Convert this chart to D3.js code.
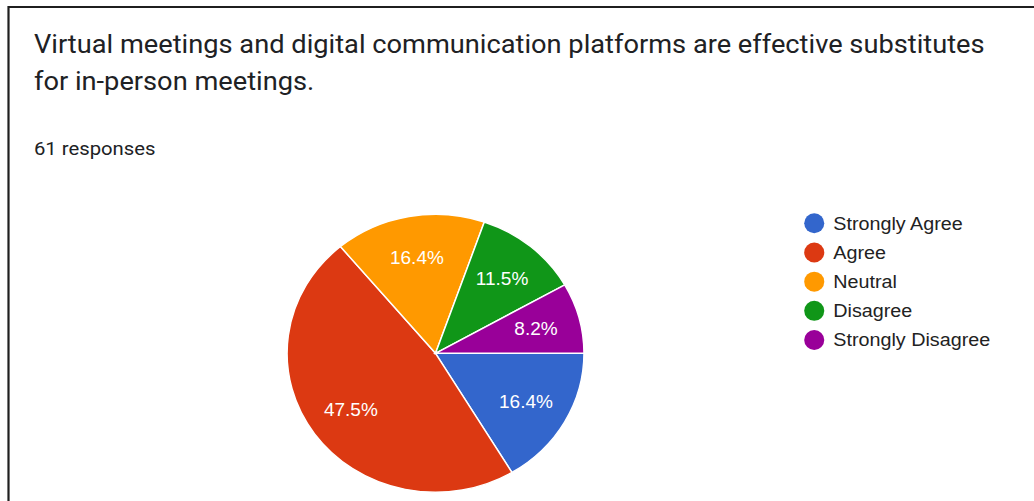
<!DOCTYPE html>
<html>
<head>
<meta charset="utf-8">
<script src="https://cdn.jsdelivr.net/npm/d3@7"></script>
<style>
  html, body { margin: 0; padding: 0; background: #fff; }
  svg { display: block; }
</style>
</head>
<body>
<svg id="chart" width="1034" height="501"></svg>
<script>
// Survey answers
const categories = ["Strongly Agree", "Agree", "Neutral", "Disagree", "Strongly Disagree"];
const counts = [10, 29, 10, 7, 5];
const colors = ["#3366cc", "#dc3912", "#ff9900", "#109618", "#990099"];
const titleLines = [
  "Virtual meetings and digital communication platforms are effective substitutes",
  "for in-person meetings."
];
const responsesLabel = "61 responses";

const W = 1034, H = 501;
const sx = 1.068; // card is rendered slightly wider than tall

const svg = d3.select("#chart");
svg.append("rect").attr("width", W).attr("height", H).attr("fill", "#fff");

// Card border (top and left edges visible)
svg.append("line").attr("x1", 8.5).attr("x2", W).attr("y1", 7).attr("y2", 7)
  .attr("stroke", "#1f1f1f").attr("stroke-width", 2.2);
svg.append("line").attr("x1", 8.5).attr("x2", 8.5).attr("y1", 6).attr("y2", H)
  .attr("stroke", "#1f1f1f").attr("stroke-width", 2.2);

const g = svg.append("g").attr("transform", `scale(${sx},1)`);

// Title
g.append("g").selectAll("text").data(titleLines).join("text")
  .attr("x", 31.8)
  .attr("y", (d, i) => 53 + i * 37.5)
  .attr("font-family", "Roboto, sans-serif")
  .attr("font-size", 25.5)
  .attr("fill", "#202124")
  .text(d => d);

g.append("text")
  .attr("x", 31.8).attr("y", 155)
  .attr("font-family", "Roboto, sans-serif")
  .attr("font-size", 19)
  .attr("fill", "#202124")
  .text(responsesLabel);

// Pie
const cx = 407.8, cy = 353.3, r = 139;
const total = d3.sum(counts);
const pie = d3.pie().sort(null).startAngle(Math.PI / 2).endAngle(Math.PI / 2 + 2 * Math.PI);
const arcs = pie(counts);
const arc = d3.arc().innerRadius(0).outerRadius(r);
const labelArc = d3.arc().innerRadius(r * 0.7).outerRadius(r * 0.7);

const pg = g.append("g").attr("transform", `translate(${cx},${cy})`);
pg.selectAll("path").data(arcs).join("path")
  .attr("d", arc)
  .attr("fill", (d, i) => colors[i])
  .attr("stroke", "#fff")
  .attr("stroke-width", 1.4);

const fmt = d3.format(".1f");
pg.selectAll("text").data(arcs).join("text")
  .attr("transform", d => `translate(${labelArc.centroid(d)})`)
  .attr("text-anchor", "middle")
  .attr("dominant-baseline", "central")
  .attr("font-family", "Arial, 'Liberation Sans', sans-serif")
  .attr("font-size", 17.8)
  .attr("fill", "#fff")
  .text(d => fmt(d.value / total * 100) + "%");

// Legend
const legend = g.append("g");
const rowY = d3.scalePoint().domain(categories).range([223.3, 340]);
const items = legend.selectAll("g").data(categories).join("g")
  .attr("transform", d => `translate(762.4,${rowY(d)})`);
items.append("ellipse").attr("rx", 9.4).attr("ry", 10)
  .attr("fill", (d, i) => colors[i]);
items.append("text")
  .attr("x", 17.8)
  .attr("dominant-baseline", "central")
  .attr("font-family", "Arial, 'Liberation Sans', sans-serif")
  .attr("font-size", 18.5)
  .attr("fill", "#222")
  .text(d => d);
</script>
</body>
</html>
